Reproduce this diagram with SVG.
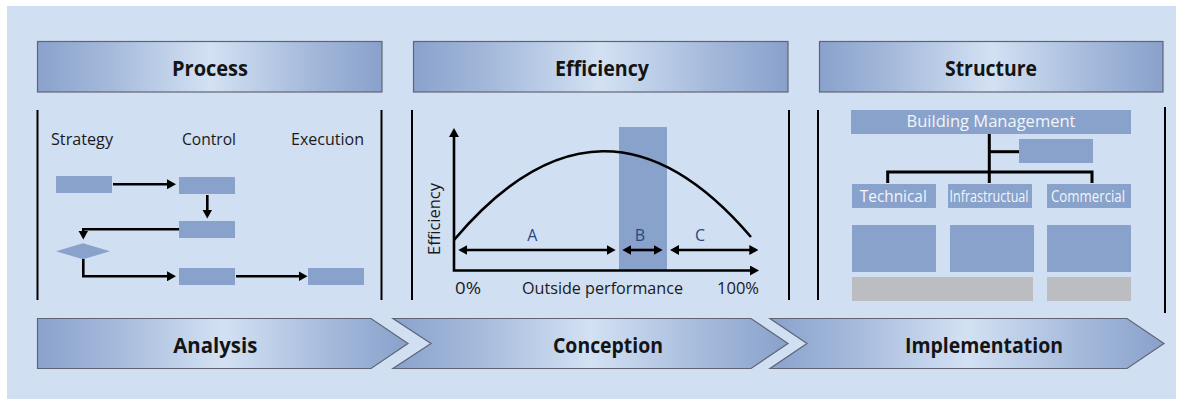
<svg xmlns="http://www.w3.org/2000/svg" width="1193" height="401" viewBox="0 0 1193 401">
  <style>
    .hdr { stroke: #5f6573; stroke-width: 1.2; }
    .hdrtxt { font-family: "Open Sans", "Noto Sans", sans-serif; font-weight: bold; font-size: 22px; fill: #141414; text-anchor: middle; }
    .lbl { font-family: "Open Sans", "Noto Sans", sans-serif; font-size: 17px; fill: #1a1a1a; }
    .abc { font-family: "Open Sans", "Noto Sans", sans-serif; font-size: 16px; fill: #27487f; text-anchor: middle; }
    .wtxt { font-family: "Open Sans", "Noto Sans", sans-serif; font-size: 17px; fill: #f2f5fa; text-anchor: middle; }
    .box { fill: #88a2cb; }
    .gray { fill: #bbbdc1; }
    .sep { stroke: #000; stroke-width: 2; fill: none; }
    .conn { stroke: #000; stroke-width: 2.6; fill: none; }
    .tree { stroke: #000; stroke-width: 3; fill: none; }
  </style>
  <defs>
    <linearGradient id="g" x1="0" y1="0" x2="1" y2="0">
      <stop offset="0" stop-color="#8aa2cc"/>
      <stop offset="0.2" stop-color="#a3b8da"/>
      <stop offset="0.5" stop-color="#d3e1f3"/>
      <stop offset="0.8" stop-color="#a3b8da"/>
      <stop offset="1" stop-color="#89a1cb"/>
    </linearGradient>
    <marker id="ah" markerUnits="userSpaceOnUse" viewBox="0 0 9 10" markerWidth="9" markerHeight="10" refX="3" refY="5" orient="auto-start-reverse">
      <path d="M0,0 L9,5 L0,10 z" fill="#000"/>
    </marker>
  </defs>

  <rect x="7" y="6" width="1169" height="393" fill="#d1dff2"/>

  <!-- Headers -->
  <g id="hdr-process">
    <rect class="hdr" x="37.5" y="41.5" width="344.5" height="50.5" fill="url(#g)"/>
    <text class="hdrtxt" x="210" y="76" textLength="76" lengthAdjust="spacingAndGlyphs">Process</text>
  </g>
  <g id="hdr-efficiency">
    <rect class="hdr" x="413.5" y="41.5" width="374.5" height="50.5" fill="url(#g)"/>
    <text class="hdrtxt" x="602" y="76" textLength="94" lengthAdjust="spacingAndGlyphs">Efficiency</text>
  </g>
  <g id="hdr-structure">
    <rect class="hdr" x="819.5" y="41.5" width="343.5" height="50.5" fill="url(#g)"/>
    <text class="hdrtxt" x="991" y="76" textLength="92" lengthAdjust="spacingAndGlyphs">Structure</text>
  </g>

  <!-- Panel separators -->
  <g id="separators">
    <line class="sep" x1="37.5" y1="110" x2="37.5" y2="300"/>
    <line class="sep" x1="381.5" y1="110" x2="381.5" y2="300"/>
    <line class="sep" x1="412" y1="110" x2="412" y2="300"/>
    <line class="sep" x1="789" y1="110" x2="789" y2="300"/>
    <line class="sep" x1="818" y1="110" x2="818" y2="300"/>
    <line class="sep" x1="1165" y1="107" x2="1165" y2="313"/>
  </g>

  <!-- Process panel -->
  <g id="process-labels">
    <text class="lbl" x="51" y="145" textLength="62" lengthAdjust="spacingAndGlyphs">Strategy</text>
    <text class="lbl" x="182" y="145" textLength="54" lengthAdjust="spacingAndGlyphs">Control</text>
    <text class="lbl" x="291" y="145" textLength="73" lengthAdjust="spacingAndGlyphs">Execution</text>
  </g>
  <g id="p-strategy"><rect class="box" x="56" y="176" width="56" height="17"/></g>
  <g id="p-control1"><rect class="box" x="179" y="177" width="56" height="17"/></g>
  <g id="p-control2"><rect class="box" x="179" y="221" width="56" height="17"/></g>
  <g id="p-decision"><polygon class="box" points="56,251.3 83,243.3 110,251.3 83,259.3"/></g>
  <g id="p-control3"><rect class="box" x="179" y="268" width="56" height="17"/></g>
  <g id="p-execution"><rect class="box" x="308" y="268" width="56" height="17"/></g>
  <g id="process-connectors">
    <path class="conn" d="M113,184.3 L170,184.3" marker-end="url(#ah)"/>
    <path class="conn" d="M207.3,195 L207.3,212.5" marker-end="url(#ah)"/>
    <path class="conn" d="M179,229.3 L83.3,229.3 L83.3,233.5" marker-end="url(#ah)"/>
    <path class="conn" d="M83.3,259 L83.3,276.3 L170,276.3" marker-end="url(#ah)"/>
    <path class="conn" d="M236,276.3 L301.5,276.3" marker-end="url(#ah)"/>
  </g>

  <!-- Efficiency panel -->
  <g id="eff-band"><rect class="box" x="619" y="127" width="48" height="144"/></g>
  <g id="eff-axes">
    <path class="conn" d="M454,134 L454,270.5 L753,270.5" marker-start="url(#ah)" marker-end="url(#ah)"/>
  </g>
  <g id="eff-curve">
    <path class="conn" d="M454,240 Q603,64 751,237"/>
  </g>
  <g id="eff-ranges">
    <path class="conn" d="M464.3,250 L609.7,250" marker-start="url(#ah)" marker-end="url(#ah)"/>
    <path class="conn" d="M628.3,250 L656.7,250" marker-start="url(#ah)" marker-end="url(#ah)"/>
    <path class="conn" d="M676,250 L752.3,250" marker-start="url(#ah)" marker-end="url(#ah)"/>
  </g>
  <g id="eff-labels">
    <text class="abc" x="532.3" y="241">A</text>
    <text class="abc" x="640" y="241">B</text>
    <text class="abc" x="700" y="241">C</text>
    <text class="lbl" x="0" y="0" transform="translate(440,255) rotate(-90)" textLength="72" lengthAdjust="spacingAndGlyphs">Efficiency</text>
    <text class="lbl" x="455" y="294" textLength="26" lengthAdjust="spacingAndGlyphs">0%</text>
    <text class="lbl" x="522" y="294" textLength="161" lengthAdjust="spacingAndGlyphs">Outside performance</text>
    <text class="lbl" x="717" y="294" textLength="42" lengthAdjust="spacingAndGlyphs">100%</text>
  </g>

  <!-- Structure panel -->
  <g id="structure-connectors">
    <path class="tree" d="M989.3,134 L989.3,183"/>
    <path class="tree" d="M989.3,151.7 L1019,151.7"/>
    <path class="tree" d="M887.7,183 L887.7,172 L1092,172 L1092,183"/>
  </g>
  <g id="s-building">
    <rect class="box" x="851" y="110" width="280" height="24"/>
    <text class="wtxt" x="991" y="127.3" textLength="169" lengthAdjust="spacingAndGlyphs">Building Management</text>
  </g>
  <g id="s-staff"><rect class="box" x="1019" y="139" width="74" height="24"/></g>
  <g id="s-technical">
    <rect class="box" x="852" y="184" width="84" height="24"/>
    <text class="wtxt" x="893.3" y="201.7" textLength="67" lengthAdjust="spacingAndGlyphs">Technical</text>
  </g>
  <g id="s-infra">
    <rect class="box" x="948" y="184" width="84" height="24"/>
    <text class="wtxt" x="989" y="201.7" textLength="79" lengthAdjust="spacingAndGlyphs">Infrastructual</text>
  </g>
  <g id="s-commercial">
    <rect class="box" x="1047" y="184" width="84" height="24"/>
    <text class="wtxt" x="1088" y="201.7" textLength="74" lengthAdjust="spacingAndGlyphs">Commercial</text>
  </g>
  <g id="s-blocks">
    <rect class="box" x="852" y="225" width="84" height="47"/>
    <rect class="box" x="950" y="225" width="84" height="47"/>
    <rect class="box" x="1047" y="225" width="84" height="47"/>
    <rect class="gray" x="852" y="277" width="181" height="24"/>
    <rect class="gray" x="1047" y="277" width="84" height="24"/>
  </g>

  <!-- Phase banners -->
  <g id="phase-analysis">
    <polygon class="hdr" points="37.5,318.5 371,318.5 408,343.5 371,368.5 37.5,368.5" fill="url(#g)"/>
    <text class="hdrtxt" x="215.3" y="352.7" textLength="84" lengthAdjust="spacingAndGlyphs">Analysis</text>
  </g>
  <g id="phase-conception">
    <polygon class="hdr" points="393,318.5 751,318.5 788,343.5 751,368.5 393,368.5 431,343.5" fill="url(#g)"/>
    <text class="hdrtxt" x="608" y="352.7" textLength="110" lengthAdjust="spacingAndGlyphs">Conception</text>
  </g>
  <g id="phase-implementation">
    <polygon class="hdr" points="770,318.5 1127,318.5 1164,343.5 1127,368.5 770,368.5 807,343.5" fill="url(#g)"/>
    <text class="hdrtxt" x="984" y="352.7" textLength="158" lengthAdjust="spacingAndGlyphs">Implementation</text>
  </g>
</svg>
